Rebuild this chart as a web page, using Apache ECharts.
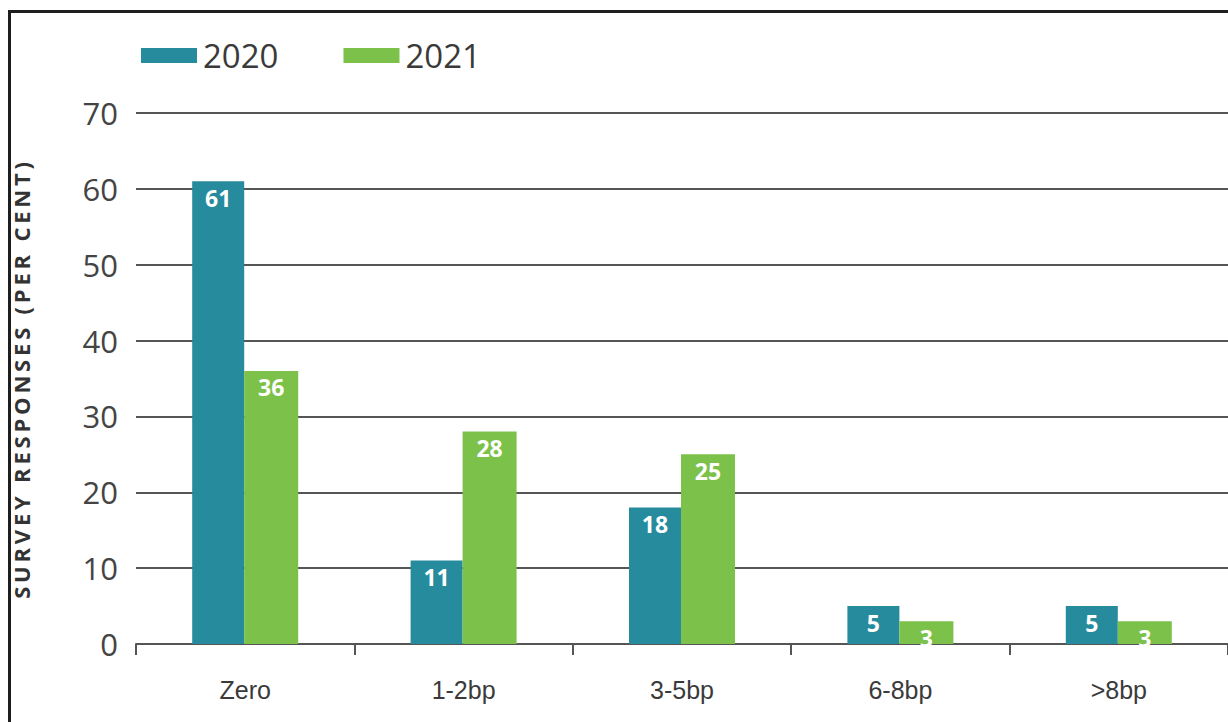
<!DOCTYPE html>
<html>
<head>
<meta charset="utf-8">
<script src="https://cdn.jsdelivr.net/npm/echarts@6/dist/echarts.min.js"></script>
<style>
  html, body { margin: 0; padding: 0; background: #fff; overflow: hidden; }
  #frame { position: absolute; left: 8px; top: 10px; width: 1300px; height: 800px; border-left: 3px solid #1e1e1e; border-top: 3px solid #1e1e1e; box-sizing: border-box; }
  #chart { position: absolute; left: 0; top: 0; width: 1228px; height: 722px; }
</style>
</head>
<body>
<div id="frame"></div>
<div id="chart"></div>
<script>
const categories = ['Zero', '1-2bp', '3-5bp', '6-8bp', '>8bp'];
const seriesNames = ['2020', '2021'];
const values2020 = [61, 11, 18, 5, 5];
const values2021 = [36, 28, 25, 3, 3];
const yTicks = [0, 10, 20, 30, 40, 50, 60, 70];
const yAxisTitle = 'SURVEY RESPONSES (PER CENT)';

const colors = ['#268b9d', '#7cc14a'];
const chart = echarts.init(document.getElementById('chart'), null, { renderer: 'svg' });

const labelStyle = {
  show: true,
  position: 'insideTop',
  distance: 5,
  color: '#ffffff',
  fontFamily: 'Open Sans',
  fontWeight: 'bold',
  fontSize: 23
};

chart.setOption({
  animation: false,
  backgroundColor: 'transparent',
  color: colors,
  legend: {
    data: seriesNames,
    left: 136,
    top: 34,
    itemWidth: 56,
    itemHeight: 15,
    itemGap: 65,
    icon: 'rect',
    textStyle: { fontFamily: 'Open Sans', fontSize: 33, color: '#3a3a3a', padding: [0, 0, 0, 1] }
  },
  grid: { left: 136, top: 113, width: 1095, height: 531 },
  xAxis: {
    type: 'category',
    data: categories,
    axisLine: { lineStyle: { color: '#555', width: 2 } },
    axisTick: { show: true, length: 11, lineStyle: { color: '#555', width: 2 } },
    axisLabel: { margin: 33, fontFamily: 'Liberation Sans Narrow, Arial Narrow, sans-serif', fontSize: 25, color: '#3a3a3a' }
  },
  yAxis: {
    type: 'value',
    min: yTicks[0],
    max: yTicks[yTicks.length - 1],
    interval: 10,
    name: yAxisTitle,
    nameLocation: 'middle',
    nameGap: 104,
    nameTextStyle: { fontFamily: 'Open Sans', fontWeight: 'bold', fontSize: 22, color: '#333' },
    axisLine: { show: false },
    axisTick: { show: false },
    axisLabel: { margin: 18, fontFamily: 'Open Sans', fontSize: 31, color: '#444' },
    splitLine: { lineStyle: { color: '#555', width: 2 } }
  },
  series: [
    { name: seriesNames[0], type: 'bar', data: values2020, barWidth: 52, barGap: '0%', label: labelStyle },
    { name: seriesNames[1], type: 'bar', data: values2021, barWidth: 54, barGap: '0%', label: labelStyle }
  ]
});

// widen the tracking of the rotated axis title, as in the reference
document.querySelectorAll('#chart svg text').forEach(function (t) {
  if (t.textContent === yAxisTitle) {
    t.style.letterSpacing = '3.8px';
  }
});
</script>
</body>
</html>
